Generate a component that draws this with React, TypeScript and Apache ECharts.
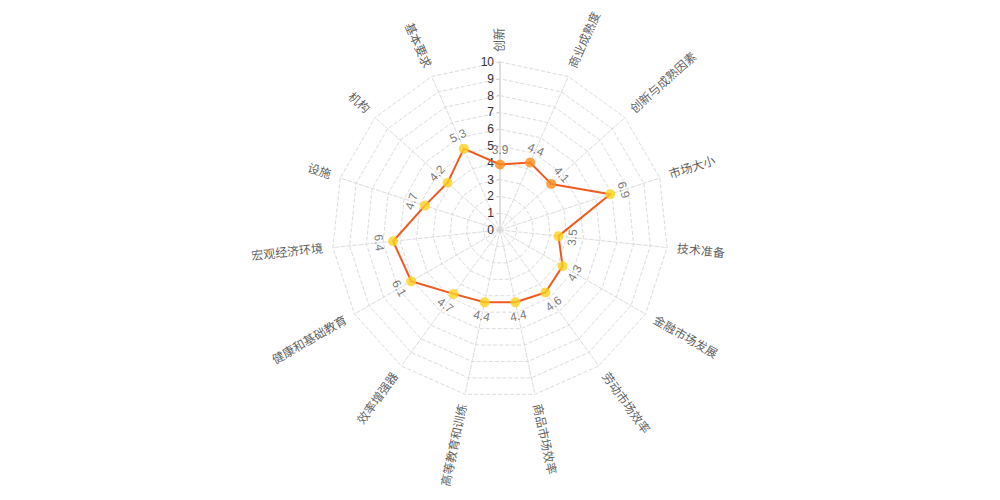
import React, { useEffect, useRef } from "react";
import * as echarts from "echarts";

const indicators = [
  "创新", "商业成熟度", "创新与成熟因素", "市场大小", "技术准备",
  "金融市场发展", "劳动市场效率", "商品市场效率", "高等教育和训练", "效率增强器",
  "健康和基础教育", "宏观经济环境", "设施", "机构", "基本要求",
];
const scores = [3.9, 4.4, 4.1, 6.9, 3.5, 4.3, 4.6, 4.4, 4.4, 4.7, 6.1, 6.4, 4.7, 4.2, 5.3];
const groups = [
  "创新与成熟因素", "创新与成熟因素", "创新与成熟因素",
  "效率增强器", "效率增强器", "效率增强器", "效率增强器", "效率增强器", "效率增强器", "效率增强器",
  "基本要求", "基本要求", "基本要求", "基本要求", "基本要求",
];
const scaleMax = 10;

const groupColors: Record<string, string> = {
  "创新与成熟因素": "#ff8c1a",
  "效率增强器": "#fcd21d",
  "基本要求": "#fcd21d",
};

const FONT = "'Liberation Sans', 'Noto Sans CJK SC', sans-serif";

function angleOf(i: number) {
  let a = 90 - (360 / indicators.length) * i;
  while (a <= -180) a += 360;
  while (a > 180) a -= 360;
  return a;
}

export default function App() {
  const ref = useRef<HTMLDivElement>(null);
  useEffect(() => {
    const chart = echarts.init(ref.current!, undefined, { renderer: "svg" });
    const n = indicators.length;

    const pointData = scores.map((v, i) => {
      const a = angleOf(i);
      let r = a - 90;
      let off = -14;
      if (r < -90) { r += 180; off = 14; }
      if (r > 90) { r -= 180; off = 14; }
      return {
        value: [v, i],
        itemStyle: { color: groupColors[groups[i]] },
        label: { rotate: r, offset: [0, off] },
      };
    });

    const nameData = indicators.map((name, i) => {
      const a = angleOf(i);
      const right = a >= -90 && a <= 90;
      return {
        value: [scaleMax, i],
        name,
        label: {
          rotate: right ? a : a > 0 ? a - 180 : a + 180,
          align: right ? "left" : "right",
          offset: [right ? 10 : -10, 0],
        },
      };
    });

    // radar runs counter-clockwise: reorder so index i sits at angle 90 - 24i
    const radarValues = scores.map((_, k) => scores[(n - k) % n]);

    chart.setOption({
      animation: false,
      textStyle: { fontFamily: FONT },
      radar: {
        center: ["50%", 230],
        radius: 168,
        startAngle: 90,
        splitNumber: 10,
        shape: "polygon",
        indicator: indicators.map(() => ({ name: "", max: scaleMax, min: 0 })),
        axisName: { show: false },
        splitLine: { lineStyle: { color: "#dcdcdc", type: "dashed", width: 1 } },
        splitArea: { show: false },
        axisLine: { lineStyle: { color: "#dcdcdc", type: "dashed", width: 1 } },
        axisLabel: { show: false },
        axisTick: { show: false },
      },
      polar: { center: ["50%", 230], radius: 168 },
      angleAxis: {
        type: "value",
        min: 0,
        max: n,
        startAngle: 90,
        clockwise: true,
        show: false,
        axisLine: { show: false },
        axisTick: { show: false },
        axisLabel: { show: false },
        splitLine: { show: false },
      },
      radiusAxis: {
        type: "value",
        min: 0,
        max: scaleMax,
        interval: 1,
        axisLine: { show: true, lineStyle: { color: "#dde2ea", width: 2 } },
        axisTick: { show: true, length: 3, lineStyle: { color: "#c8d3e3" } },
        axisLabel: { color: "#333", fontSize: 12, margin: 6, fontFamily: FONT },
        splitLine: { show: false },
      },
      series: [
        {
          type: "radar",
          symbol: "none",
          lineStyle: { color: "#f05a22", width: 2 },
          data: [{ value: radarValues }],
          z: 3,
        },
        {
          type: "scatter",
          coordinateSystem: "polar",
          symbolSize: 10,
          z: 4,
          data: pointData,
          label: {
            show: true,
            position: "inside",
            color: "#555",
            fontSize: 12,
            fontFamily: FONT,
            formatter: (p: any) => Number(p.value[0]).toFixed(1),
          },
        },
        {
          type: "scatter",
          coordinateSystem: "polar",
          symbolSize: 1,
          itemStyle: { color: "rgba(0,0,0,0)" },
          silent: true,
          z: 4,
          data: nameData,
          label: {
            show: true,
            position: "inside",
            verticalAlign: "middle",
            color: "#333",
            fontSize: 12,
            fontFamily: FONT,
            formatter: (p: any) => p.name,
          },
        },
      ],
    });
    return () => chart.dispose();
  }, []);
  return (
    <div
      ref={ref}
      style={{ position: "absolute", left: 0, top: 0, width: 1000, height: 500 }}
    />
  );
}
